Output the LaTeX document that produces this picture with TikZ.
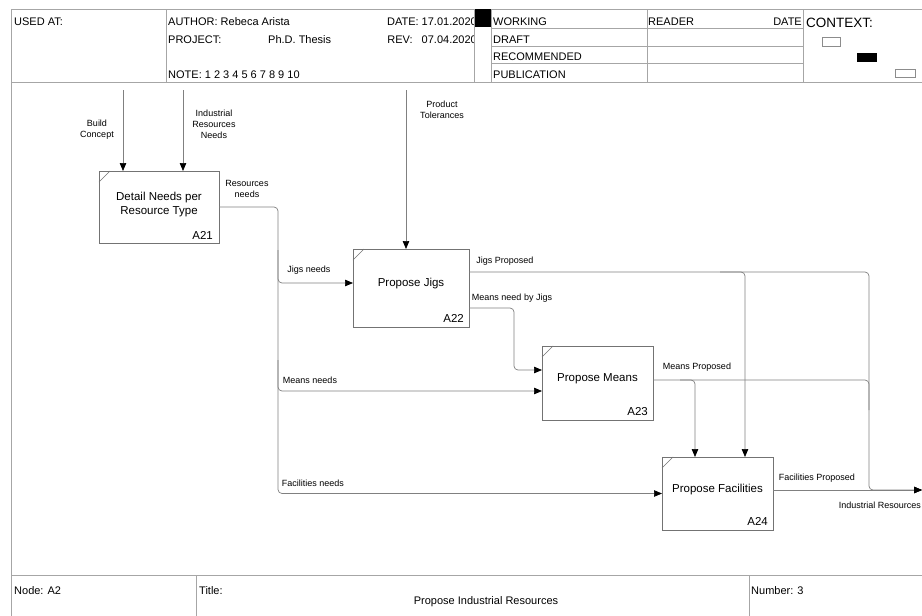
\documentclass[tikz,border=0pt]{standalone}
\usepackage{fontspec}
\setmainfont{Liberation Sans}
\usetikzlibrary{arrows.meta,calc}
\begin{document}
\begin{tikzpicture}[x=1pt,y=-1pt,
  frame/.style={draw=black!35, line width=0.6pt},
  box/.style={draw=black!55, line width=0.7pt, fill=white, inner sep=0pt, outer sep=0pt, anchor=north west},
  corner/.style={draw=black!55, line width=0.6pt},
  conn/.style={draw=black!50, line width=0.7pt, rounded corners=4pt},
  arr/.style={conn, -{Triangle[length=8pt,width=6.5pt,color=black]}},
  lbl/.style={font=\fontsize{9}{11}\selectfont, align=center, inner sep=0pt},
  btxt/.style={font=\fontsize{11.5}{14}\selectfont, align=center, inner sep=0pt},
  hdr/.style={font=\fontsize{11}{13}\selectfont, anchor=base west, inner sep=0pt},
]
\useasboundingbox (0,0) rectangle (922,616);
\fill[white] (0,0) rectangle (922,616);

% ---- frame ----
\draw[frame] (11,9) -- (922,9);
\draw[frame] (11,82) -- (922,82);
\draw[frame] (11,9) -- (11,616);
\draw[frame] (11,575) -- (922,575);
\foreach \x in {166,474,491,647,803} \draw[frame] (\x,9) -- (\x,82);
\foreach \y in {28,46,63} \draw[frame] (491,\y) -- (803,\y);
\draw[frame] (196,575) -- (196,616);
\draw[frame] (749,575) -- (749,616);

% ---- header texts ----
\node[hdr] (usedat) at (14,25.5) {USED AT:};
\node[hdr] (author) at (168,25.5) {AUTHOR: Rebeca Arista};
\node[hdr] (project) at (168,43) {PROJECT:};
\node[hdr] (thesis) at (268,43) {Ph.D. Thesis};
\node[hdr] (note) at (168,78) {NOTE: 1 2 3 4 5 6 7 8 9 10};
\node[hdr, anchor=base east] (date) at (477,25.5) {DATE: 17.01.2020};
\node[hdr, anchor=base east] (rev) at (477,43) {REV:\ \ \ 07.04.2020};
\fill[white] (474.4,9.4) rectangle (490.6,81.6);
\draw[frame] (474,9) -- (474,82);
\fill[black] (475,9) rectangle (491,27);
\node[hdr] (working) at (493,25.5) {WORKING};
\node[hdr] (draft) at (493,43) {DRAFT};
\node[hdr] (recommended) at (493,60.5) {RECOMMENDED};
\node[hdr] (publication) at (493,78) {PUBLICATION};
\node[hdr] (reader) at (648,25.5) {READER};
\node[hdr, anchor=base east] (rdate) at (802,25.5) {DATE};
\node[hdr, font=\fontsize{13.5}{15}\selectfont] (context) at (806,27.5) {CONTEXT:};
\draw[draw=black!45, line width=0.5pt] (822,37) rectangle (840,46);
\fill[black] (857,53) rectangle (877,62);
\draw[draw=black!45, line width=0.5pt] (895,69) rectangle (915,77);

% ---- footer texts ----
\node[hdr] (nodeid) at (14,594) {Node: A2};
\node[hdr] (title) at (199,594) {Title:};
\node[hdr, anchor=base] (titletext) at (486,604) {Propose Industrial Resources};
\node[hdr] (number) at (751,594) {Number: 3};

% ---- activity boxes ----
\node[box, minimum width=120pt, minimum height=72pt] (a21) at (99,171) {};
\node[box, minimum width=116pt, minimum height=78pt] (a22) at (353,249) {};
\node[box, minimum width=111pt, minimum height=74pt] (a23) at (542,346) {};
\node[box, minimum width=111pt, minimum height=73pt] (a24) at (662,457) {};
\foreach \b in {a21,a22,a23,a24}
  \draw[corner] ($(\b.north west)+(0,11)$) -- ($(\b.north west)+(11,0)$);

\node[btxt] (t21) at ($(a21.center)+(0,-2.5)$) {Detail Needs per\\Resource Type};
\node[btxt] (t22) at ($(a22.center)+(0,-4)$) {Propose Jigs};
\node[btxt] (t23) at ($(a23.center)+(0,-4)$) {Propose Means};
\node[btxt] (t24) at ($(a24.center)+(0,-3.5)$) {Propose Facilities};
\node[btxt, anchor=south east] (i21) at ($(a21.south east)+(-6,-3)$) {A21};
\node[btxt, anchor=south east] (i22) at ($(a22.south east)+(-5,-4)$) {A22};
\node[btxt, anchor=south east] (i23) at ($(a23.south east)+(-5,-4)$) {A23};
\node[btxt, anchor=south east] (i24) at ($(a24.south east)+(-5,-4)$) {A24};

% ---- inputs / controls from top ----
\coordinate (bc) at (123,90);
\coordinate (irn) at (183,90);
\coordinate (ptol) at (406,90);
\draw[arr] (bc) -- (a21.north -| bc);
\draw[arr] (irn) -- (a21.north -| irn);
\draw[arr] (ptol) -- (a22.north -| ptol);

% ---- internal connectors ----
\coordinate (bus) at (278,207);
\coordinate (out) at (922,490);
% Resources needs trunk -> Facilities needs
\draw[arr] (a21.east) -- (bus) -- (278,493.5) -- (a24.west);
% Jigs needs
\draw[arr] (278,250) -- (278,283) -- ($(a22.west)+(0,-5)$);
% Means needs
\draw[arr] (278,360) -- (278,391) -- ($(a23.west)+(0,8)$);
% Means need by Jigs
\draw[arr] ($(a22.east)+(0,20)$) -- (514,308) -- (514,370) -- ($(a23.west)+(0,-13)$);
% Jigs Proposed -> A24 control and output
\draw[arr] ($(a22.east)+(0,-16)$) -- (745,272) -- ($(a24.north)+(27.5,0)$);
\draw[arr] (720,272) -- (869,272) -- (869,490) -- (out);
% Means Proposed -> A24 control and output
\draw[arr] ($(a23.east)+(0,-3)$) -- (695,380) -- ($(a24.north)+(-22.5,0)$);
\draw[conn] (680,380) -- (869,380) -- (869,410);
% Facilities Proposed -> output
\draw[arr] ($(a24.east)+(0,-3.5)$) -- (out);

% ---- connector labels ----
\node[lbl] (lbc) at (97,129.5) {Build\\Concept};
\node[lbl] (lirn) at (214,124.5) {Industrial\\Resources\\Needs};
\node[lbl] (lptol) at (442,110) {Product\\Tolerances};
\node[lbl] (lres) at (247,189) {Resources\\needs};
\node[lbl] (ljn) at (309,270) {Jigs needs};
\node[lbl] (ljp) at (505,261) {Jigs Proposed};
\node[lbl] (lmnj) at (512,298) {Means need by Jigs};
\node[lbl] (lmn) at (310,380) {Means needs};
\node[lbl] (lmp) at (697,367) {Means Proposed};
\node[lbl] (lfn) at (313,483) {Facilities needs};
\node[lbl] (lfp) at (817,478) {Facilities Proposed};
\node[lbl, anchor=east] (lir) at (921,505) {Industrial Resources};
\end{tikzpicture}
\end{document}
